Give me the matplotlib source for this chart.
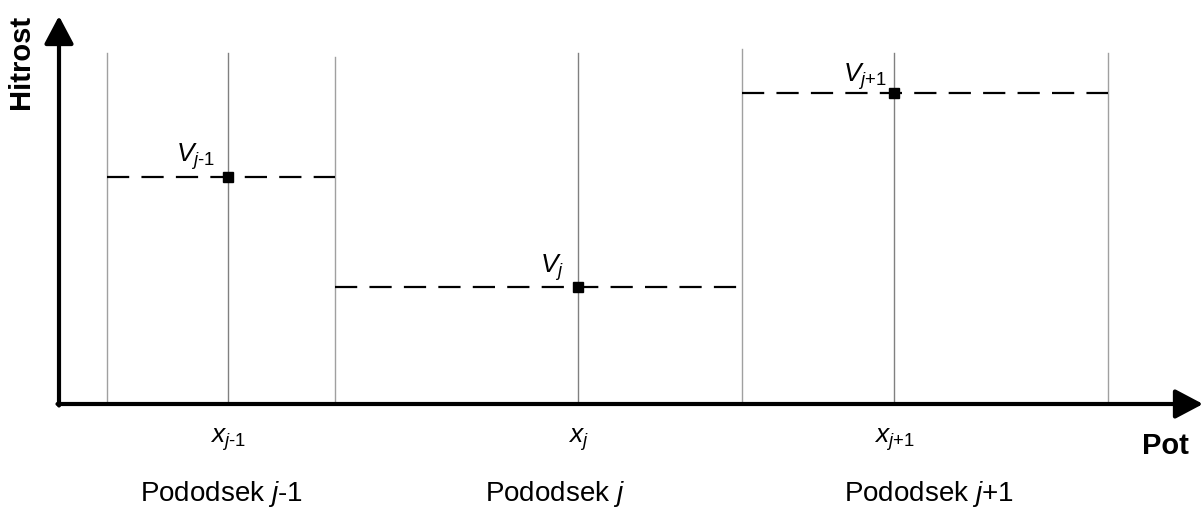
import matplotlib
matplotlib.use("Agg")
import matplotlib.pyplot as plt

plt.rcParams['font.family'] = ['Liberation Sans', 'DejaVu Sans']
plt.rcParams['mathtext.fontset'] = 'custom'
plt.rcParams['mathtext.rm'] = 'Liberation Sans'
plt.rcParams['mathtext.it'] = 'Liberation Sans:italic'
plt.rcParams['mathtext.bf'] = 'Liberation Sans:bold'

# Data (diagram coordinates, origin at axis corner)
boundaries = [48, 276, 683, 1049]          # sub-section borders
boundary_tops = [351, 347, 355, 351]
centers = [169, 519, 835]                  # x_{j-1}, x_j, x_{j+1}
center_tops = [351, 351, 351]
velocities = [227, 117, 311]               # V_{j-1}, V_j, V_{j+1}
v_labels = [r'$V_{j\text{-1}}$', r'$V_{j}$', r'$V_{j\text{+1}}$']
v_label_x = [156, 505, 828]
v_label_y = [242, 131, 322]
x_labels = [r'$x_{j\text{-1}}$', r'$x_{j}$', r'$x_{j\text{+1}}$']
section_labels = [r'Pododsek $j$-1', r'Pododsek $j$', r'Pododsek $j$+1']
section_x = [162, 496, 870]
y_title = 'Hitrost'
x_title = 'Pot'

fig = plt.figure(figsize=(12.03, 5.09), dpi=100)
ax = fig.add_axes([0, 0, 1, 1])
ax.set_xlim(-59, 1203 - 59)
ax.set_ylim(-(509 - 404), 404)
ax.axis('off')

grey = '#a0a0a0'
for b, t in zip(boundaries, boundary_tops):
    ax.plot([b, b], [0, t], color=grey, lw=1.0, zorder=1)
for c, t in zip(centers, center_tops):
    ax.plot([c, c], [0, t], color='#808080', lw=1.0, zorder=1)

for i, v in enumerate(velocities):
    ax.plot([boundaries[i], boundaries[i + 1]], [v, v], color='black', lw=1.6,
            dashes=(10, 5.5), zorder=2)
    ax.plot([centers[i]], [v], marker='s', ms=7.5, color='black', zorder=3)
    ax.text(v_label_x[i], v_label_y[i], v_labels[i], ha='right', va='baseline',
            fontsize=19)
    ax.text(centers[i], -39, x_labels[i], ha='center', va='baseline', fontsize=19)
    ax.text(section_x[i], -97, section_labels[i], ha='center', va='baseline',
            fontsize=20)

# axes arrows
ap = dict(arrowstyle='-|>,head_length=0.85,head_width=0.45', color='black', lw=3,
          shrinkA=0, shrinkB=0, mutation_scale=20)
ax.annotate('', xy=(0, 404 - 16), xytext=(0, -1.5), arrowprops=ap)
ax.annotate('', xy=(1203 - 59, 0), xytext=(-1.5, 0), arrowprops=ap)

ax.text(-38, 342, y_title, rotation=90, ha='center', va='center', fontsize=21,
        fontweight='bold')
ax.text(1106, -42, x_title, ha='center', va='center', fontsize=21, fontweight='bold')

fig.savefig('out.png', dpi=100)
